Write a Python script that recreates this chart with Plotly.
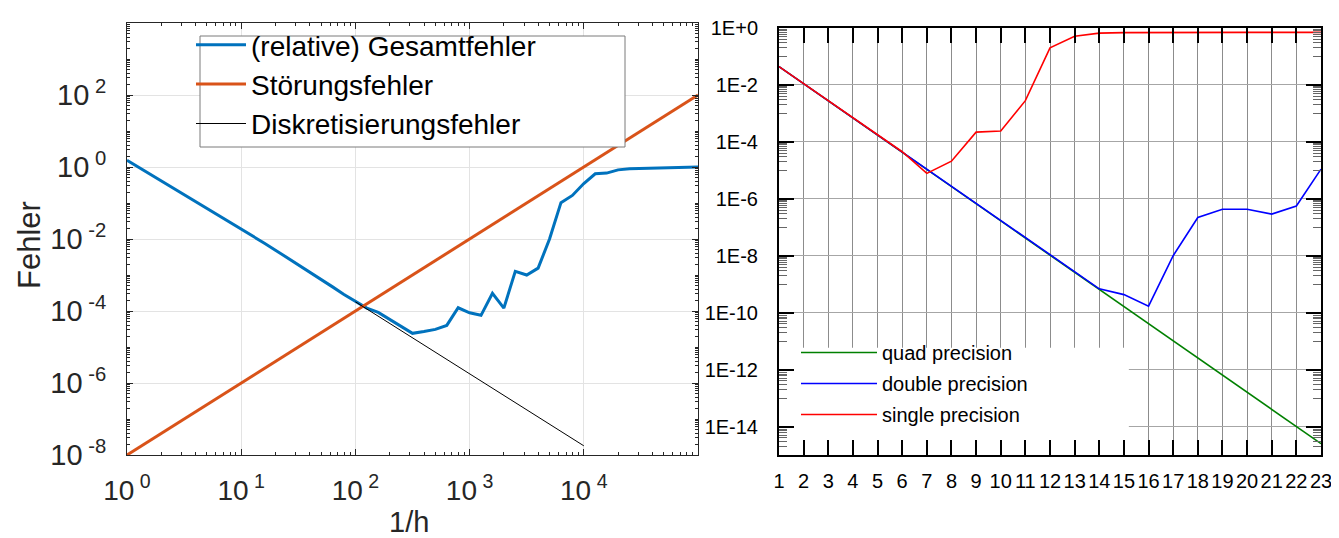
import plotly.graph_objects as go

# ---------------- left chart data ----------------
# sampling points 1/h given as decimal exponents (1/h = 10**e)
inv_h_exp = [0.0, 0.1, 0.2, 0.3, 0.4, 0.5, 0.6, 0.7, 0.8, 0.9,
             1.0, 1.1, 1.2, 1.3, 1.4, 1.5, 1.6, 1.7, 1.8, 1.9,
             2.0, 2.1, 2.2, 2.3, 2.4, 2.5, 2.6, 2.7, 2.8, 2.9,
             3.0, 3.1, 3.2, 3.3, 3.4, 3.5, 3.6, 3.7, 3.8, 3.9,
             4.0, 4.1, 4.2, 4.3, 4.4, 4.5, 4.6, 4.7, 4.8, 4.9, 5.0]
# (relative) total error, read as decimal exponents
gesamt_exp = [0.19, 0.00, -0.19, -0.38, -0.57, -0.76, -0.95, -1.14, -1.33, -1.52,
              -1.71, -1.91, -2.11, -2.31, -2.51, -2.72, -2.92, -3.13, -3.33, -3.54,
              -3.74, -3.92, -4.04, -4.24, -4.43, -4.62, -4.57, -4.51, -4.40, -3.91,
              -4.05, -4.12, -3.51, -3.92, -2.90, -3.00, -2.81, -2.00, -0.99, -0.79,
              -0.46, -0.19, -0.17, -0.08, -0.05, -0.04, -0.04, -0.02, 0.00, 0.00, 0.00]
stoer_x = [1, 100000]
stoer_y = [1e-8, 1e2]
disk_x = [1e2, 1e3, 1e4]
disk_y = [1.8e-4, 1.8e-6, 1.8e-8]

left_xtickvals = [1, 10, 100, 1000, 10000]
left_xticktext = ["10<sup> 0</sup>", "10<sup> 1</sup>", "10<sup> 2</sup>", "10<sup> 3</sup>", "10<sup> 4</sup>"]
left_ytickvals = [1e-8, 1e-6, 1e-4, 1e-2, 1e0, 1e2]
left_yticktext = ["10<sup> -8</sup>", "10<sup> -6</sup>", "10<sup> -4</sup>", "10<sup> -2</sup>", "10<sup> 0</sup>", "10<sup> 2</sup>"]

# ---------------- right chart data ----------------
n_steps = list(range(1, 24))
quad = [4.4e-2, 1.1e-2, 2.8e-3, 6.9e-4, 1.7e-4, 4.3e-5, 1.08e-5, 2.7e-6, 6.8e-7, 1.7e-7,
        4.2e-8, 1.06e-8, 2.6e-9, 6.7e-10, 1.65e-10, 4.1e-11, 1.03e-11, 2.6e-12, 6.4e-13,
        1.6e-13, 4.0e-14, 1.0e-14, 2.5e-15]
double = [4.4e-2, 1.1e-2, 2.8e-3, 6.9e-4, 1.7e-4, 4.3e-5, 1.08e-5, 2.7e-6, 6.8e-7, 1.7e-7,
          4.2e-8, 1.06e-8, 2.6e-9, 6.9e-10, 4.3e-10, 1.7e-10, 1.0e-8, 2.2e-7, 4.3e-7,
          4.3e-7, 2.9e-7, 5.6e-7, 1.1e-5]
single = [4.4e-2, 1.1e-2, 2.8e-3, 6.9e-4, 1.7e-4, 4.5e-5, 7.8e-6, 2.1e-5, 2.2e-4, 2.4e-4,
          2.8e-3, 0.20, 0.51, 0.66, 0.69, 0.70, 0.70, 0.70, 0.70, 0.70, 0.70, 0.70, 0.70]

right_ytickvals = [1e0, 1e-2, 1e-4, 1e-6, 1e-8, 1e-10, 1e-12, 1e-14]
right_yticktext = ["1E+0", "1E-2", "1E-4", "1E-6", "1E-8", "1E-10", "1E-12", "1E-14"]

# minor tick positions
left_xminor = [m * 10 ** k for k in range(0, 5) for m in range(2, 10)]
left_yminor = [m * 10 ** k for k in range(-8, 4) for m in range(1, 10) if not (m == 1 and k % 2 == 0)]
right_yminor = [m * 10 ** (k - 1) for k in range(0, -16, -2) for m in range(1, 10)]

FONT = "Liberation Sans, Arial, sans-serif"
MGRAY = "#262626"

fig = go.Figure()

fig.add_trace(go.Scatter(x=[10 ** e for e in inv_h_exp], y=[10 ** v for v in gesamt_exp],
                         mode="lines", name="(relative) Gesamtfehler",
                         line=dict(color="#0072BD", width=3), xaxis="x", yaxis="y",
                         legend="legend"))
fig.add_trace(go.Scatter(x=stoer_x, y=stoer_y, mode="lines", name="Störungsfehler",
                         line=dict(color="#D95319", width=3), xaxis="x", yaxis="y",
                         legend="legend"))
fig.add_trace(go.Scatter(x=disk_x, y=disk_y, mode="lines", name="Diskretisierungsfehler",
                         line=dict(color="#000000", width=1), xaxis="x", yaxis="y",
                         legend="legend"))

fig.add_trace(go.Scatter(x=n_steps, y=quad, mode="lines", name="quad precision",
                         line=dict(color="#008000", width=1.6), xaxis="x2", yaxis="y2",
                         legend="legend2", legendgroup="q"))
fig.add_trace(go.Scatter(x=n_steps, y=double, mode="lines", name="double precision",
                         line=dict(color="#0000FF", width=1.6), xaxis="x2", yaxis="y2",
                         legend="legend2", legendgroup="d"))
fig.add_trace(go.Scatter(x=n_steps, y=single, mode="lines", name="single precision",
                         line=dict(color="#FF0000", width=1.6), xaxis="x2", yaxis="y2",
                         legend="legend2", legendgroup="s"))

W, H = 1339, 538


def px_x(p):
    return p / W


def px_y(p):
    return 1 - p / H


fig.update_layout(
    width=W, height=H, autosize=False,
    margin=dict(l=0, r=0, t=0, b=0, autoexpand=False),
    paper_bgcolor="white", plot_bgcolor="white",
    font=dict(family=FONT, color="#000000"),
    xaxis=dict(type="log", range=[0, 5], domain=[px_x(119), px_x(690)], anchor="y",
               automargin=False,
               tickmode="array", tickvals=left_xtickvals, ticktext=left_xticktext,
               ticks="inside", ticklen=6, tickcolor=MGRAY, tickwidth=1,
               showline=True, linecolor=MGRAY, linewidth=1, mirror="allticks",
               showgrid=True, gridcolor="#e3e3e3", gridwidth=1, zeroline=False,
               tickfont=dict(size=28, color=MGRAY), ticklabelstandoff=10, tickangle=0,
               minor=dict(tickmode="array", tickvals=left_xminor, ticks="inside", ticklen=3,
                          tickcolor=MGRAY, showgrid=False)),
    yaxis=dict(type="log", range=[-8, 4], domain=[px_y(447), px_y(15)], anchor="x",
               automargin=False,
               tickmode="array", tickvals=left_ytickvals, ticktext=left_yticktext,
               ticks="inside", ticklen=6, tickcolor=MGRAY, tickwidth=1,
               showline=True, linecolor=MGRAY, linewidth=1, mirror="allticks",
               showgrid=True, gridcolor="#e3e3e3", gridwidth=1, zeroline=False,
               tickfont=dict(size=29, color=MGRAY), ticklabelstandoff=14,
               minor=dict(tickmode="array", tickvals=left_yminor, ticks="inside", ticklen=3,
                          tickcolor=MGRAY, showgrid=False)),
    xaxis2=dict(range=[1, 23], domain=[px_x(771), px_x(1313)], anchor="y2",
                automargin=False,
                tickmode="linear", tick0=1, dtick=1,
                ticks="inside", ticklen=15, tickcolor="#000000", tickwidth=1.5,
                showline=True, linecolor="#000000", linewidth=2, mirror="allticks",
                showgrid=True, gridcolor="#8c8c8c", gridwidth=1, zeroline=False,
                tickfont=dict(size=20, color="#000000"), ticklabelstandoff=7, tickangle=0),
    yaxis2=dict(type="log", range=[-15, 0], domain=[px_y(447), px_y(20)], anchor="x2",
                automargin=False,
                tickmode="array", tickvals=right_ytickvals, ticktext=right_yticktext,
                ticks="inside", ticklen=15, tickcolor="#000000", tickwidth=1.5,
                showline=True, linecolor="#000000", linewidth=2, mirror="allticks",
                showgrid=True, gridcolor="#a6a6a6", gridwidth=1, zeroline=False,
                tickfont=dict(size=20, color="#000000"), ticklabelstandoff=15,
                minor=dict(tickmode="array", tickvals=right_yminor, ticks="inside", ticklen=8,
                           tickcolor="#666666", tickwidth=1, showgrid=False)),
    legend=dict(x=px_x(183), y=px_y(12), xanchor="left", yanchor="top",
                bgcolor="rgba(0,0,0,0)", borderwidth=0, itemwidth=50,
                font=dict(size=28, color="#000000", family=FONT), tracegroupgap=0),
    legend2=dict(x=px_x(788), y=px_y(325), xanchor="left", yanchor="top",
                 bgcolor="rgba(0,0,0,0)", borderwidth=0, itemwidth=76,
                 font=dict(size=20, color="#000000", family=FONT), tracegroupgap=2),
    showlegend=True,
    shapes=[
        dict(type="rect", xref="paper", yref="paper",
             x0=px_x(192), x1=px_x(617), y0=px_y(139), y1=px_y(28),
             fillcolor="white", line=dict(color="#7a7a7a", width=1), layer="above"),
        dict(type="rect", xref="x2", yref="y2",
             x0=1, x1=15.2, y0=1e-15, y1=5.8e-12,
             fillcolor="white", line=dict(width=0), layer="between"),
    ],
    annotations=[
        dict(text="Fehler", xref="paper", yref="paper", x=px_x(21), y=px_y(237),
             textangle=-90, showarrow=False, font=dict(size=31, color=MGRAY, family=FONT),
             xanchor="center", yanchor="middle"),
        dict(text="1/h", xref="paper", yref="paper", x=px_x(401), y=px_y(514),
             showarrow=False, font=dict(size=29, color=MGRAY, family=FONT),
             xanchor="center", yanchor="middle"),
    ],
)

fig.write_html("out.html")
